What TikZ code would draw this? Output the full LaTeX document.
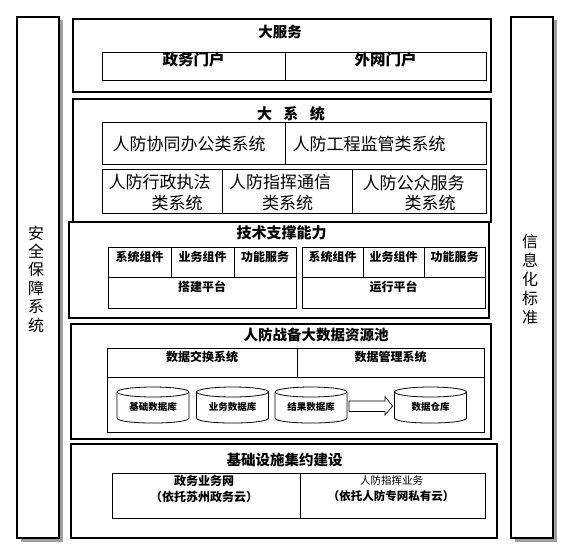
\documentclass[tikz,border=0pt]{standalone}
\usepackage{fontspec}
\newfontfamily\cjk{Noto Sans CJK SC}
\usetikzlibrary{fit,shadows}
\begin{document}
\begin{tikzpicture}[x=1pt,y=-1pt,
  outerbox/.style={draw, line width=1.7pt, inner sep=0pt},
  cellbox/.style={draw, line width=0.8pt, inner sep=0pt},
  colbox/.style={draw, line width=1.8pt, fill=white, inner sep=0pt,
     drop shadow={shadow xshift=3.5pt, shadow yshift=-3.5pt, fill=gray!75, opacity=1}},
  vtxt/.style={inner sep=0pt, align=center},
  ttl/.style={inner sep=0pt, font=\cjk\bfseries\fontsize{14.5}{16}\selectfont},
  midtxt/.style={font=\cjk\bfseries\fontsize{15.5}{18}\selectfont},
  bigtxt/.style={inner sep=0pt, font=\cjk\fontsize{17}{20}\selectfont},
  smtxt/.style={font=\cjk\bfseries\fontsize{12}{14}\selectfont},
  tinytxt/.style={inner sep=0pt, font=\cjk\bfseries\fontsize{9.5}{11}\selectfont},
  cyl/.style={line width=0.8pt}
]
\useasboundingbox (0,0) rectangle (567,551);

% side columns
\node[colbox, fit={(17,17)(59,538)}] (leftcol) {};
\node[vtxt, font=\cjk\fontsize{16}{18.4}\selectfont] (lefttxt) at (36,279) {安\\全\\保\\障\\系\\统};
\node[colbox, fit={(511,17)(553,538)}] (rightcol) {};
\node[vtxt, font=\cjk\fontsize{16}{19}\selectfont] (righttxt) at (530,279) {信\\息\\化\\标\\准};

% 大服务
\node[outerbox, fit={(73,19)(491,92)}] (svc) {};
\node[ttl] (svct) at (280,32) {大服务};
\node[cellbox, midtxt, fit={(102,52)(285,80)}] (zwmh) {政务门户};
\node[cellbox, midtxt, fit={(285,52)(486,80)}] (wwmh) {外网门户};

% 大系统
\node[outerbox, fit={(73,99)(491,222)}] (sys) {};
\node[ttl, font=\cjk\bfseries\fontsize{15}{16}\selectfont] (syst) at (291,114) {大\hspace{11.5pt}系\hspace{11.5pt}统};
\node[cellbox, fit={(102,122)(285,164)}] (xtbg) {};
\node[bigtxt] (xtbgt) at (189,144) {人防协同办公类系统};
\node[cellbox, fit={(285,122)(486,164)}] (gcjg) {};
\node[bigtxt] (gcjgt) at (369,144) {人防工程监管类系统};
\node[cellbox, fit={(102,169)(222,213)}] (xzzf) {};
\node[bigtxt] (xzzf1) at (159.5,182.5) {人防行政执法};
\node[bigtxt] (xzzf2) at (177,203) {类系统};
\node[cellbox, fit={(222,169)(352,213)}] (zhtx) {};
\node[bigtxt] (zhtx1) at (280,182.5) {人防指挥通信};
\node[bigtxt] (zhtx2) at (287.5,203) {类系统};
\node[cellbox, fit={(352,169)(486,213)}] (gzfw) {};
\node[bigtxt] (gzfw1) at (413.5,182.5) {人防公众服务};
\node[bigtxt] (gzfw2) at (430,203) {类系统};

% 技术支撑能力
\node[outerbox, fill=white, fit={(69,222)(489,318)}] (tech) {};
\node[ttl, font=\cjk\bfseries\fontsize{15}{16}\selectfont] (techt) at (281.5,233) {技术支撑能力};
\node[cellbox, smtxt, fit={(108,247)(171,277)}] (l1) {系统组件};
\node[cellbox, smtxt, fit={(171,247)(234,277)}] (l2) {业务组件};
\node[cellbox, smtxt, fit={(234,247)(296,277)}] (l3) {功能服务};
\node[cellbox, smtxt, fit={(108,277)(296,308)}] (l4) {搭建平台};
\node[cellbox, smtxt, fit={(302,247)(363,277)}] (r1) {系统组件};
\node[cellbox, smtxt, fit={(363,247)(424,277)}] (r2) {业务组件};
\node[cellbox, smtxt, fit={(424,247)(485,277)}] (r3) {功能服务};
\node[cellbox, smtxt, fit={(302,277)(485,308)}] (r4) {运行平台};

% 人防战备大数据资源池
\node[outerbox, fit={(71,324)(491,439)}] (data) {};
\node[ttl] (datat) at (316,335) {人防战备大数据资源池};
\node[cellbox, smtxt, fit={(107,348)(297,377)}] (sjjh) {数据交换系统};
\node[cellbox, smtxt, fit={(297,348)(484,377)}] (sjgl) {数据管理系统};
\node[cellbox, fit={(107,377)(484,432)}] (dbarea) {};

\foreach \cx/\nm/\txt in {153/cyl1/基础数据库, 232.5/cyl2/业务数据库, 311/cyl3/结果数据库, 430.5/cyl4/数据仓库}{
  \draw[cyl] (\cx-36,392) -- (\cx-36,418) .. controls (\cx-36,424.7) and (\cx+36,424.7) .. (\cx+36,418) -- (\cx+36,392);
  \draw[cyl] (\cx,392) ellipse [x radius=36, y radius=5];
  \node[tinytxt] (\nm) at (\cx,407) {\txt};
}
\draw[line width=0.7pt] (349,401) -- (385,401) -- (385,396.5) -- (392.5,406) -- (385,415) -- (385,411.5) -- (349,411.5) -- cycle;

% 基础设施集约建设
\node[outerbox, fit={(71,444)(497,538)}] (infra) {};
\node[ttl] (infrat) at (284.5,460) {基础设施集约建设};
\node[cellbox, fit={(112,473)(300,518)}] (zwyw) {};
\node[inner sep=0pt, font=\cjk\bfseries\fontsize{12}{14}\selectfont] (zwyw1) at (204,480.5) {政务业务网};
\node[inner sep=0pt, font=\cjk\bfseries\fontsize{12}{14}\selectfont] (zwyw2) at (204,497) {（依托苏州政务云）};
\node[cellbox, fit={(300,473)(485,518)}] (zhyw) {};
\node[inner sep=0pt, font=\cjk\fontsize{10.5}{12}\selectfont] (zhyw1) at (391.5,480.5) {人防指挥业务};
\node[inner sep=0pt, font=\cjk\bfseries\fontsize{11.5}{14}\selectfont] (zhyw2) at (391,496.5) {（依托人防专网私有云）};
\end{tikzpicture}
\end{document}
